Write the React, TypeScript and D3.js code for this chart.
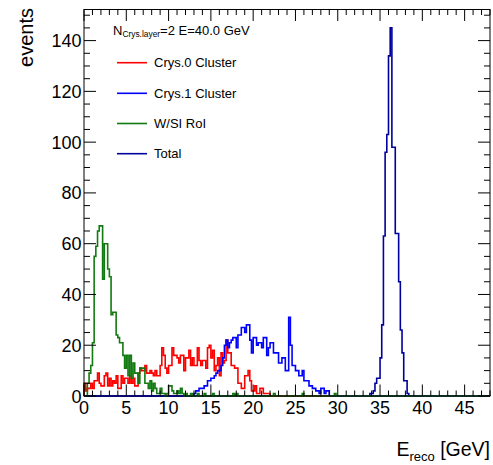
import React from "react";
import * as d3 from "d3";

const W = 493;
const H = 465;
const BIN = 0.2;
const X_MIN = 0;
const X_MAX = 48;
const Y_MAX = 152.25;

// Crys.0 Cluster (red), 0.2 GeV bins starting at redStart
const redStart = 0.0;
const redValues = [
  5, 2, 3, 3, 5, 3, 6, 6, 9, 5, 4, 4, 8, 9, 4, 7, 4, 6, 5, 8,
  3, 3, 8, 5, 7, 7, 5, 8, 5, 7, 4, 4, 9, 11, 10, 10, 12, 9, 9, 10,
  9, 8, 10, 8, 8, 12, 19, 16, 11, 9, 12, 12, 19, 16, 16, 15, 13, 16, 16, 10,
  15, 15, 18, 12, 15, 12, 12, 19, 14, 12, 14, 14, 11, 19, 20, 15, 18, 10, 12, 15,
  8, 17, 13, 14, 22, 17, 17, 12, 12, 11, 11, 5, 5, 3, 3, 8, 8, 10, 6, 2,
  2, 4, 1, 1, 3, 3, 1, 1, 1, 1,
];

// Crys.1 Cluster (blue)
const blueStart = 13.0;
const blueValues = [
  1, 2, 2, 3, 3, 3, 4, 4, 6, 6, 7, 7, 8, 9, 10, 10, 12, 15, 20, 22,
  19, 21, 22, 23, 23, 19, 24, 24, 27, 27, 25, 28, 28, 22, 17, 23, 23, 20, 21, 21,
  19, 23, 23, 16, 19, 21, 21, 17, 17, 17, 13, 13, 15, 15, 10, 10, 31, 20, 12, 12,
  10, 10, 8, 8, 10, 6, 6, 6, 4, 4, 3, 3, 2, 2, 1, 3, 3, 1, 2, 2,
];

// W/Si RoI (green)
const greenStart = 0.0;
const greenValues = [
  0, 0, 5, 9, 12, 21, 55, 59, 65, 67, 67, 46, 60, 60, 50, 47, 32, 33, 33, 24,
  23, 21, 21, 16, 11, 16, 8, 16, 7, 13, 9, 9, 5, 11, 11, 11, 5, 5, 3, 6,
  2, 5, 3, 1, 1, 3, 1, 1, 0, 1, 4, 4, 2, 1, 1, 2, 1, 3, 1, 0,
  1, 0, 0, 1, 0, 0, 0, 1,
];
const greenTailBins = [14.2, 15.2, 17.6, 18.0, 22.4, 25.8, 29.6];
const greenTailCounts = [1, 1, 1, 1, 1, 1, 1];

// Total (navy)
const totalStart = 33.8;
const totalValues = [
  1, 1, 2, 5, 7, 7, 15, 28, 63, 96, 103, 134, 145, 98, 98, 64, 64, 45, 26, 17,
  6, 6, 1,
];

const xTicks = [0, 5, 10, 15, 20, 25, 30, 35, 40, 45];
const yTicks = [0, 20, 40, 60, 80, 100, 120, 140];

const legendHeader = { main: "N", sub: "Crys.layer", rest: "=2 E=40.0 GeV" };
const legendLabels = ["Crys.0 Cluster", "Crys.1 Cluster", "W/SI RoI", "Total"];
const seriesColors = ["#ff0000", "#0000ff", "#117a11", "#00009c"];

const FONT = "'Liberation Sans', Arial, Helvetica, sans-serif";

const NBINS = Math.round((X_MAX - X_MIN) / BIN);

function toBins(start: number, values: number[]): number[] {
  const arr = new Array(NBINS).fill(0);
  const s = Math.round((start - X_MIN) / BIN);
  values.forEach((v, i) => {
    if (s + i >= 0 && s + i < NBINS) arr[s + i] = v;
  });
  return arr;
}

export default function App() {
  const left = 84;
  const right = 490;
  const top = 9.5;
  const bottom = 396;

  const x = d3.scaleLinear().domain([X_MIN, X_MAX]).range([left, right]);
  const y = d3.scaleLinear().domain([0, Y_MAX]).range([bottom, top]);

  const redBins = toBins(redStart, redValues);
  const blueBins = toBins(blueStart, blueValues);
  const greenBins = toBins(greenStart, greenValues);
  greenTailBins.forEach((g, i) => {
    const idx = Math.round((g - X_MIN) / BIN);
    greenBins[idx] = greenTailCounts[i];
  });
  const totalBins = toBins(totalStart, totalValues);

  const line = d3
    .line<[number, number]>()
    .x((d) => x(d[0]))
    .y((d) => y(d[1]));

  const stepPath = (bins: number[]) => {
    const pts: [number, number][] = [[X_MIN, 0]];
    bins.forEach((v, i) => {
      pts.push([X_MIN + i * BIN, v]);
      pts.push([X_MIN + (i + 1) * BIN, v]);
    });
    pts.push([X_MAX, 0]);
    return line(pts) || "";
  };

  const series = [
    { bins: totalBins, color: seriesColors[3] },
    { bins: redBins, color: seriesColors[0] },
    { bins: blueBins, color: seriesColors[1] },
    { bins: greenBins, color: seriesColors[2] },
  ];

  const xMinor = d3.range(0, 49, 1);
  const yMinor = d3.range(0, 151, 5);

  const legendY = [62.7, 93.3, 123.5, 153.7];

  return (
    <svg
      width={W}
      height={H}
      style={{ position: "absolute", left: 0, top: 0, background: "#fff" }}
      fontFamily={FONT}
    >
      <rect x={0} y={0} width={W} height={H} fill="#fff" />

      {series.map((s, i) => (
        <path
          key={i}
          d={stepPath(s.bins)}
          fill="none"
          stroke={s.color}
          strokeWidth={1.6}
          strokeLinejoin="miter"
        />
      ))}

      {/* frame */}
      <rect
        x={left}
        y={top}
        width={right - left}
        height={bottom - top}
        fill="none"
        stroke="#000"
        strokeWidth={1}
      />

      {/* x ticks bottom & top */}
      {xMinor.map((v) => {
        const major = v % 5 === 0;
        const len = major ? 11.5 : 5.5;
        return (
          <g key={"xt" + v}>
            <line x1={x(v)} x2={x(v)} y1={bottom} y2={bottom - len} stroke="#000" strokeWidth={1} />
            <line x1={x(v)} x2={x(v)} y1={top} y2={top + len} stroke="#000" strokeWidth={1} />
          </g>
        );
      })}
      {/* y ticks left & right */}
      {yMinor.map((v) => {
        const major = v % 20 === 0;
        const len = major ? 12 : 6;
        return (
          <g key={"yt" + v}>
            <line x1={left} x2={left + len} y1={y(v)} y2={y(v)} stroke="#000" strokeWidth={1} />
            <line x1={right} x2={right - len} y1={y(v)} y2={y(v)} stroke="#000" strokeWidth={1} />
          </g>
        );
      })}

      {/* tick labels */}
      {xTicks.map((v) => (
        <text key={"xl" + v} x={x(v)} y={414} textAnchor="middle" fontSize={18} fill="#000">
          {v}
        </text>
      ))}
      {yTicks.map((v) => (
        <text key={"yl" + v} x={81.5} y={y(v) + 6.5} textAnchor="end" fontSize={18} fill="#000">
          {v}
        </text>
      ))}

      {/* axis titles */}
      <text x={490} y={456} textAnchor="end" fontSize={19.5} fill="#000">
        <tspan>E</tspan>
        <tspan fontSize={13} dy={5}>reco</tspan>
        <tspan dy={-5}> [GeV]</tspan>
      </text>
      <text
        transform="translate(33,8) rotate(-90)"
        textAnchor="end"
        fontSize={20}
        fill="#000"
      >
        events
      </text>

      {/* legend */}
      <text x={113} y={34.5} fontSize={13} fill="#000">
        <tspan>{legendHeader.main}</tspan>
        <tspan fontSize={8.4} dy={2.5}>{legendHeader.sub}</tspan>
        <tspan dy={-2.5}>{legendHeader.rest}</tspan>
      </text>
      {legendLabels.map((lab, i) => (
        <g key={"lg" + i}>
          <line
            x1={117}
            x2={147}
            y1={legendY[i]}
            y2={legendY[i]}
            stroke={seriesColors[i]}
            strokeWidth={1.6}
          />
          <text x={154} y={legendY[i] + 4.6} fontSize={13} fill="#000">
            {lab}
          </text>
        </g>
      ))}
    </svg>
  );
}
